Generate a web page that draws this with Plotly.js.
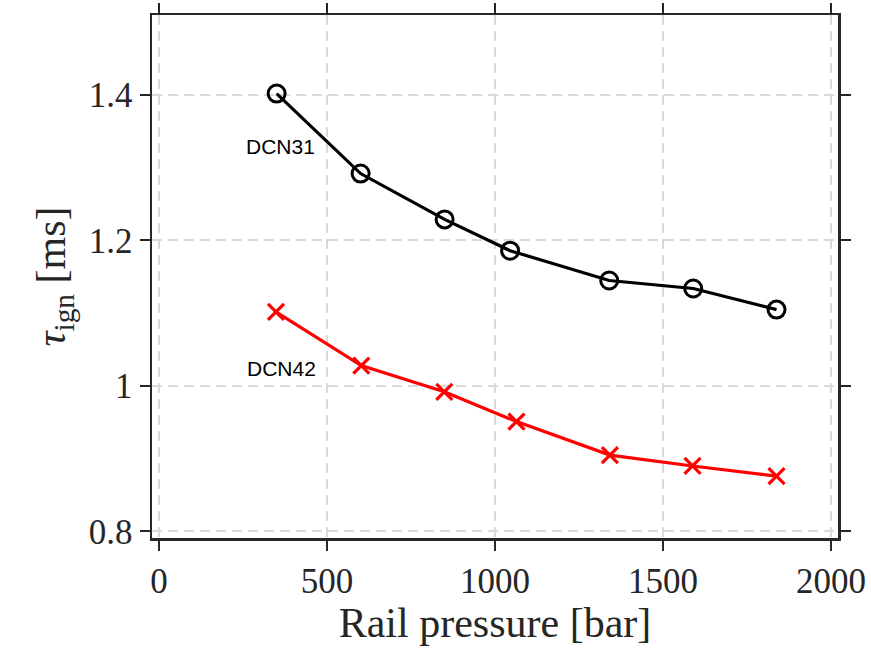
<!DOCTYPE html>
<html>
<head>
<meta charset="utf-8">
<script src="https://cdn.plot.ly/plotly-3.0.1.min.js"></script>
<style>
html,body{margin:0;padding:0;background:#fff;}
#chart{width:871px;height:653px;}
</style>
</head>
<body>
<div id="chart"></div>
<script>
// Data
const pressureDCN31 = [350, 600, 850, 1045, 1340, 1590, 1838];
const tauDCN31 = [1.402, 1.292, 1.229, 1.186, 1.145, 1.134, 1.105];
const pressureDCN42 = [348, 602, 849, 1064, 1342, 1588, 1838];
const tauDCN42 = [1.102, 1.028, 0.992, 0.951, 0.905, 0.890, 0.876];
const xTicks = [0, 500, 1000, 1500, 2000];
const yTicks = [0.8, 1.0, 1.2, 1.4];
const yTickText = ['0.8', '1', '1.2', '1.4'];
const seriesNames = ['DCN31', 'DCN42'];

const traces = [
  {
    x: pressureDCN31, y: tauDCN31, name: seriesNames[0],
    mode: 'lines+markers', type: 'scatter',
    line: {color: '#000000', width: 3.2},
    marker: {symbol: 'circle-open', size: 17, color: '#000000', line: {width: 3, color: '#000000'}}
  },
  {
    x: pressureDCN42, y: tauDCN42, name: seriesNames[1],
    mode: 'lines+markers', type: 'scatter',
    line: {color: '#ff0000', width: 3.2},
    marker: {symbol: 'x-thin-open', size: 16, color: '#ff0000', line: {width: 3.2, color: '#ff0000'}}
  }
];

const axisCommon = {
  showline: true, mirror: 'ticks', linecolor: '#262626', linewidth: 2.5,
  ticks: 'outside', ticklen: 10, tickwidth: 2, tickcolor: '#262626',
  showgrid: true, gridcolor: '#d9d9d9', gridwidth: 2, griddash: '10px,6px',
  zeroline: false,
  tickfont: {family: 'Liberation Serif, Times New Roman, serif', size: 35, color: '#262626'}
};

const layout = {
  width: 871, height: 653,
  margin: {l: 152, r: 33, t: 15, b: 115},
  paper_bgcolor: '#ffffff', plot_bgcolor: '#ffffff',
  showlegend: false,
  xaxis: Object.assign({}, axisCommon, {
    range: [-21, 2021], tickvals: xTicks,
    title: {text: 'Rail pressure [bar]', standoff: 8,
      font: {family: 'Liberation Serif, Times New Roman, serif', size: 42, color: '#262626'}}
  }),
  yaxis: Object.assign({}, axisCommon, {
    range: [0.791, 1.51], tickvals: yTicks, ticktext: yTickText,
    title: {text: '<i>τ</i><sub>ign</sub> [ms]', standoff: 10,
      font: {family: 'Liberation Serif, Times New Roman, serif', size: 42, color: '#262626'}}
  }),
  annotations: [
    {x: 362, y: 1.329, xref: 'x', yref: 'y', text: seriesNames[0], showarrow: false,
     font: {family: 'Liberation Sans, Arial, sans-serif', size: 21, color: '#000000'}},
    {x: 365, y: 1.024, xref: 'x', yref: 'y', text: seriesNames[1], showarrow: false,
     font: {family: 'Liberation Sans, Arial, sans-serif', size: 21, color: '#000000'}}
  ]
};

Plotly.newPlot('chart', traces, layout, {displayModeBar: false, staticPlot: true});
</script>
</body>
</html>
